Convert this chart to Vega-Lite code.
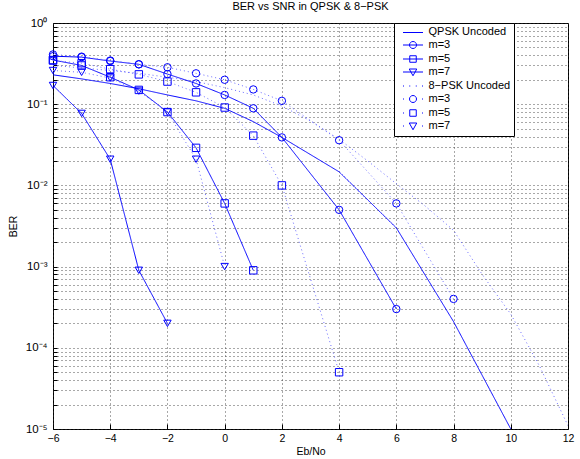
{
  "$schema": "https://vega.github.io/schema/vega-lite/v6.json",
  "width": 515,
  "height": 406,
  "autosize": {"type": "none"},
  "padding": {"left": 53, "top": 23, "right": 12, "bottom": 30},
  "background": "white",
  "title": {"text": "BER vs SNR in QPSK & 8−PSK", "fontSize": 11, "fontWeight": "normal", "font": "Liberation Sans", "offset": 5, "anchor": "middle", "color": "black"},
  "config": {
    "font": "Liberation Sans",
    "view": {"stroke": "black", "strokeWidth": 1}
  },
  "data": {"values": [
    {"s": "q0", "x": -6, "ber": 0.23},
    {"s": "q0", "x": -5, "ber": 0.205},
    {"s": "q0", "x": -4, "ber": 0.18},
    {"s": "q0", "x": -3, "ber": 0.155},
    {"s": "q0", "x": -2, "ber": 0.13},
    {"s": "q0", "x": -1, "ber": 0.11},
    {"s": "q0", "x": 0, "ber": 0.089},
    {"s": "q0", "x": 1, "ber": 0.061},
    {"s": "q0", "x": 2, "ber": 0.039},
    {"s": "q0", "x": 4, "ber": 0.0147},
    {"s": "q0", "x": 6, "ber": 0.003},
    {"s": "q0", "x": 8, "ber": 0.00021},
    {"s": "q0", "x": 10, "ber": 0.00001},
    {"s": "q3", "x": -6, "ber": 0.39},
    {"s": "q3", "x": -5, "ber": 0.38},
    {"s": "q3", "x": -4, "ber": 0.34},
    {"s": "q3", "x": -3, "ber": 0.31},
    {"s": "q3", "x": -2, "ber": 0.235},
    {"s": "q3", "x": -1, "ber": 0.18},
    {"s": "q3", "x": 0, "ber": 0.13},
    {"s": "q3", "x": 1, "ber": 0.089},
    {"s": "q3", "x": 2, "ber": 0.039},
    {"s": "q3", "x": 4, "ber": 0.005},
    {"s": "q3", "x": 6, "ber": 0.0003},
    {"s": "q5", "x": -6, "ber": 0.35},
    {"s": "q5", "x": -5, "ber": 0.3},
    {"s": "q5", "x": -4, "ber": 0.215},
    {"s": "q5", "x": -3, "ber": 0.15},
    {"s": "q5", "x": -2, "ber": 0.08},
    {"s": "q5", "x": -1, "ber": 0.029},
    {"s": "q5", "x": 0, "ber": 0.006},
    {"s": "q5", "x": 1, "ber": 0.0009},
    {"s": "q7", "x": -6, "ber": 0.17},
    {"s": "q7", "x": -5, "ber": 0.077},
    {"s": "q7", "x": -4, "ber": 0.021},
    {"s": "q7", "x": -3, "ber": 0.0009},
    {"s": "q7", "x": -2, "ber": 0.0002},
    {"s": "p0", "x": -6, "ber": 0.3},
    {"s": "p0", "x": -5, "ber": 0.28},
    {"s": "p0", "x": -4, "ber": 0.26},
    {"s": "p0", "x": -3, "ber": 0.24},
    {"s": "p0", "x": -2, "ber": 0.215},
    {"s": "p0", "x": -1, "ber": 0.19},
    {"s": "p0", "x": 0, "ber": 0.16},
    {"s": "p0", "x": 1, "ber": 0.13},
    {"s": "p0", "x": 2, "ber": 0.095},
    {"s": "p0", "x": 3, "ber": 0.062},
    {"s": "p0", "x": 4, "ber": 0.037},
    {"s": "p0", "x": 5, "ber": 0.02},
    {"s": "p0", "x": 6, "ber": 0.0105},
    {"s": "p0", "x": 7, "ber": 0.0056},
    {"s": "p0", "x": 8, "ber": 0.0028},
    {"s": "p0", "x": 9, "ber": 0.0008},
    {"s": "p0", "x": 10, "ber": 0.00026},
    {"s": "p0", "x": 11, "ber": 0.00006},
    {"s": "p0", "x": 12, "ber": 0.000011},
    {"s": "p3", "x": -6, "ber": 0.41},
    {"s": "p3", "x": -5, "ber": 0.385},
    {"s": "p3", "x": -4, "ber": 0.345},
    {"s": "p3", "x": -3, "ber": 0.31},
    {"s": "p3", "x": -2, "ber": 0.285},
    {"s": "p3", "x": -1, "ber": 0.24},
    {"s": "p3", "x": 0, "ber": 0.2},
    {"s": "p3", "x": 1, "ber": 0.152},
    {"s": "p3", "x": 2, "ber": 0.11},
    {"s": "p3", "x": 4, "ber": 0.036},
    {"s": "p3", "x": 6, "ber": 0.006},
    {"s": "p3", "x": 8, "ber": 0.0004},
    {"s": "p5", "x": -6, "ber": 0.345},
    {"s": "p5", "x": -5, "ber": 0.32},
    {"s": "p5", "x": -4, "ber": 0.27},
    {"s": "p5", "x": -3, "ber": 0.233},
    {"s": "p5", "x": -2, "ber": 0.19},
    {"s": "p5", "x": -1, "ber": 0.14},
    {"s": "p5", "x": 0, "ber": 0.091},
    {"s": "p5", "x": 1, "ber": 0.041},
    {"s": "p5", "x": 2, "ber": 0.01},
    {"s": "p5", "x": 4, "ber": 0.00005},
    {"s": "p7", "x": -6, "ber": 0.26},
    {"s": "p7", "x": -5, "ber": 0.247},
    {"s": "p7", "x": -4, "ber": 0.21},
    {"s": "p7", "x": -3, "ber": 0.145},
    {"s": "p7", "x": -2, "ber": 0.08},
    {"s": "p7", "x": -1, "ber": 0.021},
    {"s": "p7", "x": 0, "ber": 0.001}
  ]},
  "encoding": {
    "x": {
      "field": "x", "type": "quantitative",
      "scale": {"domain": [-6, 12], "nice": false, "zero": false},
      "axis": {
        "values": [-6, -4, -2, 0, 2, 4, 6, 8, 10, 12],
        "title": "Eb/No",
        "grid": true, "gridDash": [1, 3], "gridColor": "#333", "gridOpacity": 0.85,
        "domain": false,
        "tickSize": -5, "tickColor": "black",
        "labelPadding": 9, "labelFontSize": 10.5, "labelColor": "black", "labelFlush": false,
        "titleFontSize": 10.5, "titleFontWeight": "normal", "titleColor": "black", "titlePadding": 3
      }
    },
    "y": {
      "field": "ber", "type": "quantitative",
      "scale": {"type": "log", "domain": [0.00001, 1], "nice": false},
      "axis": {
        "values": [0.00001, 0.00002, 0.00003, 0.00004, 0.00005, 0.00006, 0.00007, 0.00008, 0.00009,
                   0.0001, 0.0002, 0.0003, 0.0004, 0.0005, 0.0006, 0.0007, 0.0008, 0.0009,
                   0.001, 0.002, 0.003, 0.004, 0.005, 0.006, 0.007, 0.008, 0.009,
                   0.01, 0.02, 0.03, 0.04, 0.05, 0.06, 0.07, 0.08, 0.09,
                   0.1, 0.2, 0.3, 0.4, 0.5, 0.6, 0.7, 0.8, 0.9, 1],
        "labelExpr": "datum.value == 1 ? '10⁰' : datum.value == 0.1 ? '10⁻¹' : datum.value == 0.01 ? '10⁻²' : datum.value == 0.001 ? '10⁻³' : datum.value == 0.0001 ? '10⁻⁴' : datum.value == 0.00001 ? '10⁻⁵' : ''",
        "title": "BER",
        "grid": true, "gridDash": [1, 3], "gridColor": "#333", "gridOpacity": 0.85,
        "domain": false,
        "tickSize": -4, "tickColor": "black",
        "labelPadding": 10, "labelFontSize": 11.5, "labelColor": "black", "labelFlush": false, "labelOverlap": false,
        "titleFontSize": 10.5, "titleFontWeight": "normal", "titleColor": "black", "titlePadding": 7
      }
    }
  },
  "layer": [
    {
      "mark": {"type": "line", "strokeWidth": 1, "clip": true},
      "encoding": {
        "strokeDash": {"field": "s", "type": "nominal",
          "scale": {"domain": ["q0", "q3", "q5", "q7", "p0", "p3", "p5", "p7"],
                    "range": [[1, 0], [1, 0], [1, 0], [1, 0], [1, 3], [1, 3], [1, 3], [1, 3]]},
          "legend": null},
        "color": {"field": "s", "type": "nominal",
          "scale": {"domain": ["q0", "q3", "q5", "q7", "p0", "p3", "p5", "p7"],
                    "range": ["#0000ff", "#0000ff", "#0000ff", "#0000ff", "#6a6aff", "#6a6aff", "#6a6aff", "#6a6aff"]},
          "legend": null}
      }
    },
    {
      "transform": [{"filter": "datum.s != 'q0' && datum.s != 'p0'"}],
      "mark": {"type": "point", "filled": false, "size": 55, "strokeWidth": 1, "color": "#0000ff", "opacity": 1},
      "encoding": {
        "shape": {"field": "s", "type": "nominal",
          "scale": {"domain": ["q3", "q5", "q7", "p3", "p5", "p7"],
                    "range": ["circle", "square", "triangle-down", "circle", "square", "triangle-down"]},
          "legend": null}
      }
    },
    {
      "transform": [{"filter": "false"}],
      "mark": {"type": "point", "filled": false, "size": 100, "strokeWidth": 1, "color": "#0000ff", "opacity": 1},
      "encoding": {
        "shape": {"field": "s", "type": "nominal",
          "scale": {"domain": ["q0", "q3", "q5", "q7", "p0", "p3", "p5", "p7"],
                    "range": [
                      "M0,0.1L4,0.1",
                      "M0,0L4,0M1.3,0A0.7,0.7,0,1,0,2.7,0A0.7,0.7,0,1,0,1.3,0",
                      "M0,0L4,0M1.35,-0.65L2.65,-0.65L2.65,0.65L1.35,0.65Z",
                      "M0,0L4,0M1.25,-0.6L2.75,-0.6L2,0.75Z",
                      "M0,0L0.2,0M1.25,0L1.45,0M2.55,0L2.75,0M3.8,0L4,0",
                      "M0,0L0.2,0M3.8,0L4,0M1.3,0A0.7,0.7,0,1,0,2.7,0A0.7,0.7,0,1,0,1.3,0",
                      "M0,0L0.2,0M3.8,0L4,0M1.35,-0.65L2.65,-0.65L2.65,0.65L1.35,0.65Z",
                      "M0,0L0.2,0M3.8,0L4,0M1.25,-0.6L2.75,-0.6L2,0.75Z"
                    ]},
          "legend": {
            "title": null, "orient": "none", "legendX": 341, "legendY": 0,
            "labelExpr": "datum.value == 'q0' ? 'QPSK Uncoded' : datum.value == 'p0' ? '8−PSK Uncoded' : datum.value == 'q3' || datum.value == 'p3' ? 'm=3' : datum.value == 'q5' || datum.value == 'p5' ? 'm=5' : 'm=7'",
            "fillColor": "white", "strokeColor": "black", "padding": 3.5, "cornerRadius": 0,
            "labelFontSize": 11, "labelFont": "Liberation Sans", "labelColor": "black",
            "symbolStrokeColor": "#0000ff", "symbolFillColor": "transparent", "symbolStrokeWidth": 1,
            "symbolOpacity": 1, "symbolSize": 100, "rowPadding": 1, "labelOffset": 20, "symbolLimit": 0,
            "encode": {"symbols": {"update": {"stroke": {"value": "#0000ff"}, "strokeOpacity": {"value": 1}, "opacity": {"value": 1}}}}
          }
        }
      }
    }
  ],
  "resolve": {"scale": {"shape": "independent"}, "legend": {"shape": "independent"}}
}
